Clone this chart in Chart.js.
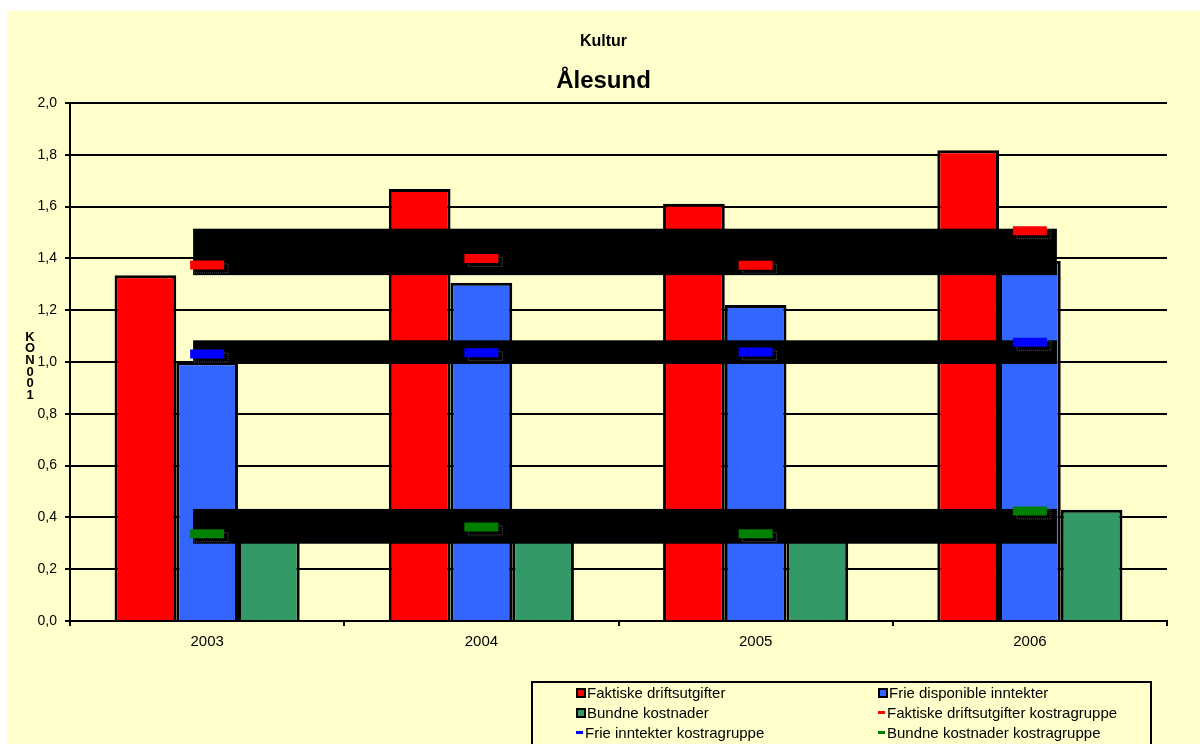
<!DOCTYPE html>
<html>
<head>
<meta charset="utf-8">
<script src="https://cdn.jsdelivr.net/npm/chart.js@4.4.0/dist/chart.umd.min.js"></script>
<style>
  body { margin: 0; background: #fff; font-family: Arial, 'Liberation Sans', sans-serif; }
  #wrap { position: absolute; left: 7px; top: 11px; width: 1193px; height: 733px; background: #FFFFCC; overflow: hidden; }
  #legend { position: absolute; left: 524px; top: 670px; width: 617px; height: 62px; border: 2px solid #000; }
  .item { position: absolute; height: 20px; line-height: 20px; font-size: 15px; color: #000; white-space: nowrap; }
  .box { display: inline-block; width: 6px; height: 6px; border: 2px solid #000; margin-right: 1px; vertical-align: 0px; }
  .dash { display: inline-block; width: 7px; height: 3px; margin-right: 2px; vertical-align: 4px; }
</style>
</head>
<body>
<div id="wrap">
  <canvas id="KulturChart" width="1193" height="733"></canvas>
  <div id="legend"></div>
</div>
<script>
// data
var years = ['2003', '2004', '2005', '2006'];
var faktiske = [1.335, 1.668, 1.611, 1.818];
var frieDisponible = [0.999, 1.306, 1.22, 1.39];
var bundne = [0.33, 0.34, 0.32, 0.43];
var faktiskeKostra = [1.375, 1.40, 1.374, 1.507];
var frieKostra = [1.031, 1.036, 1.039, 1.076];
var bundneKostra = [0.337, 0.363, 0.337, 0.425];
var yTickLabels = ['0,0', '0,2', '0,4', '0,6', '0,8', '1,0', '1,2', '1,4', '1,6', '1,8', '2,0'];
var yTitle = 'KON001';

Chart.defaults.font.family = "Arial, 'Liberation Sans', sans-serif";
Chart.defaults.color = '#000';

// black bands behind the kostragruppe marks
var bandPlugin = {
  id: 'bands',
  afterDatasetDraw: function(chart, args) {
    if (args.index !== 0) return;
    var ctx = chart.ctx, x = chart.scales.x, y = chart.scales.y;
    ctx.save();
    [3, 4, 5].forEach(function(i) {
      var vals = chart.data.datasets[i].data;
      var top = y.getPixelForValue(Math.max.apply(null, vals)) - 2;
      var bottom = y.getPixelForValue(Math.min.apply(null, vals)) + 10;
      var left = x.getPixelForValue(0) - 14;
      var right = x.getPixelForValue(vals.length - 1) + 27;
      ctx.fillStyle = '#000';
      ctx.fillRect(left, top, right - left, bottom - top);
      // little grey shadow under each mark
      ctx.strokeStyle = '#555';
      ctx.lineWidth = 1;
      ctx.setLineDash([1, 1]);
      chart.getDatasetMeta(i).data.forEach(function(p) {
        ctx.strokeRect(p.x - 13, p.y - 1, 34, 9);
      });
      ctx.setLineDash([]);
    });
    ctx.restore();
  },
  afterDraw: function(chart) {
    var ctx = chart.ctx;
    ctx.save();
    ctx.font = 'bold 13px Arial, "Liberation Sans", sans-serif';
    ctx.fillStyle = '#000';
    ctx.textAlign = 'center';
    ctx.textBaseline = 'middle';
    for (var i = 0; i < yTitle.length; i++) {
      ctx.fillText(yTitle[i], 23, 326 + i * 11.7);
    }
    ctx.restore();
  }
};

var ctx = document.getElementById('KulturChart').getContext('2d');
var myChart = new Chart(ctx, {
  type: 'bar',
  data: {
    labels: years,
    datasets: [
      { label: 'Faktiske driftsutgifter', data: faktiske, backgroundColor: '#FF0000', borderColor: '#000', borderWidth: 3, order: 2 },
      { label: 'Frie disponible inntekter', data: frieDisponible, backgroundColor: '#3366FF', borderColor: '#000', borderWidth: 3, order: 2 },
      { label: 'Bundne kostnader', data: bundne, backgroundColor: '#339966', borderColor: '#000', borderWidth: 3, order: 2 },
      { type: 'line', label: 'Faktiske driftsutgifter kostragruppe', data: faktiskeKostra, borderColor: '#FF0000', backgroundColor: '#FF0000', showLine: false, pointStyle: 'line', pointRadius: 17, pointHoverRadius: 17, pointBorderWidth: 9, order: 1 },
      { type: 'line', label: 'Frie inntekter kostragruppe', data: frieKostra, borderColor: '#0000FF', backgroundColor: '#0000FF', showLine: false, pointStyle: 'line', pointRadius: 17, pointHoverRadius: 17, pointBorderWidth: 9, order: 1 },
      { type: 'line', label: 'Bundne kostnader kostragruppe', data: bundneKostra, borderColor: '#008000', backgroundColor: '#008000', showLine: false, pointStyle: 'line', pointRadius: 17, pointHoverRadius: 17, pointBorderWidth: 9, order: 1 }
    ]
  },
  options: {
    responsive: false,
    animation: false,
    devicePixelRatio: 1,
    categoryPercentage: 0.675,
    barPercentage: 1.0,
    layout: { padding: { left: 0, right: 0, top: 0, bottom: 93 } },
    plugins: {
      legend: { display: false },
      tooltip: { enabled: false },
      title: { display: true, text: 'Kultur', font: { size: 16, weight: 'bold' }, padding: { top: 21, bottom: 16 } },
      subtitle: { display: true, text: 'Ålesund', color: '#000', font: { size: 24, weight: 'bold' }, padding: { top: 0, bottom: 7 } }
    },
    scales: {
      x: {
        offset: true,
        grid: { drawOnChartArea: false, drawTicks: true, tickLength: 5, color: '#000', lineWidth: 2 },
        border: { color: '#000', width: 2 },
        ticks: { font: { size: 15 }, padding: 7 },
        afterFit: function(scale) { scale.height = 30; }
      },
      y: {
        min: 0,
        max: 2,
        grid: { color: '#000', lineWidth: 2, tickLength: 5 },
        border: { color: '#000', width: 2 },
        ticks: {
          stepSize: 0.2,
          padding: 8,
          font: { size: 14 },
          callback: function(value, index) { return yTickLabels[index]; }
        },
        afterFit: function(scale) { scale.width = 63; }
      },
      // empty right margin, kept as an axis so the titles centre on the full width
      yRight: {
        position: 'right',
        min: 0,
        max: 2,
        grid: { drawOnChartArea: false, drawTicks: false },
        border: { display: false },
        ticks: { display: false },
        afterFit: function(scale) { scale.width = 33; }
      }
    }
  },
  plugins: [bandPlugin]
});

// legend in two columns, like the original
var legend = document.getElementById('legend');
myChart.data.datasets.forEach(function(ds, i) {
  var item = document.createElement('div');
  item.className = 'item';
  item.style.left = (i % 2 === 0 ? 43 : 345) + 'px';
  item.style.top = (Math.floor(i / 2) * 20) + 'px';
  var mark = document.createElement('span');
  if (ds.type === 'line') {
    mark.className = 'dash';
    mark.style.background = ds.borderColor;
  } else {
    mark.className = 'box';
    mark.style.background = ds.backgroundColor;
  }
  item.appendChild(mark);
  item.appendChild(document.createTextNode(ds.label));
  legend.appendChild(item);
});
</script>
</body>
</html>
